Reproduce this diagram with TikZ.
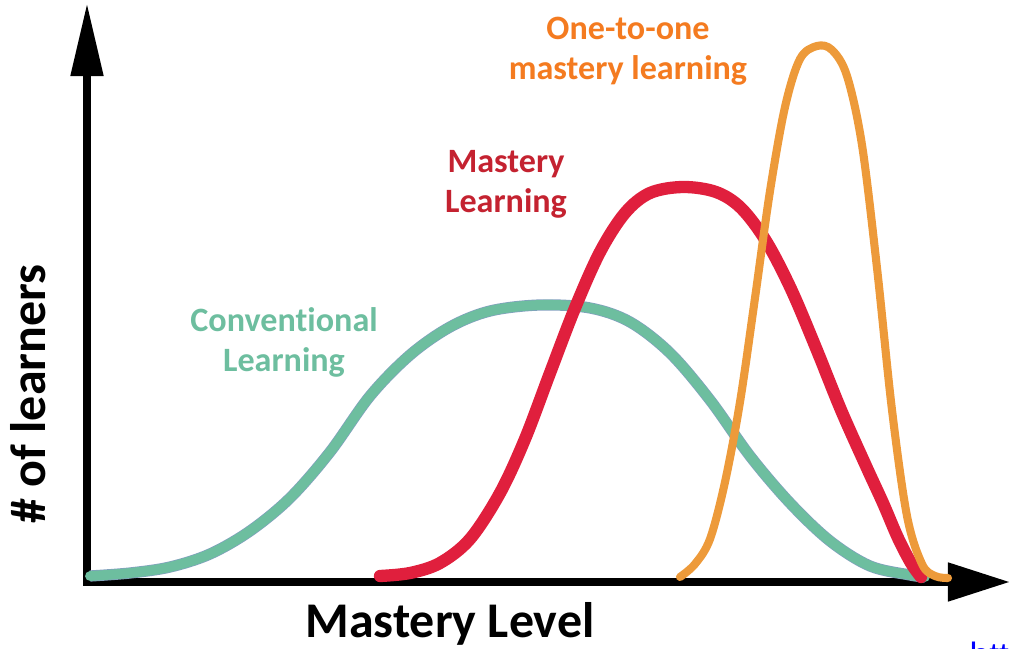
\documentclass[tikz,border=0pt]{standalone}
\usepackage{fontspec}
\setmainfont{Carlito}[Ligatures=CommonOff]
\newfontfamily\urlfont{Liberation Sans}
\usetikzlibrary{arrows.meta}

\definecolor{convgreen}{RGB}{109,190,159}
\definecolor{convedge}{RGB}{130,160,190}
\definecolor{mastred}{RGB}{224,31,61}
\definecolor{mastredtext}{RGB}{196,34,48}
\definecolor{oneorange}{RGB}{237,154,58}
\definecolor{oneorangetext}{RGB}{244,123,32}

\begin{document}
\begin{tikzpicture}[x=0.01cm, y=-0.01cm,
	axis/.style={line width=2.3pt},
	curve/.style={line width=#1, line cap=round, line join=round},
	lbl/.style={font=\bfseries\fontsize{9.7}{11.4}\selectfont, align=center, inner sep=0pt},
	axislbl/.style={font=\bfseries\fontsize{14.2}{17}\selectfont, inner sep=0pt}]

	\useasboundingbox (0,0) rectangle (1009,649);

	% axes
	\coordinate (O) at (87,582);
	\coordinate (ytip) at (87,3);
	\coordinate (xtip) at (1010,582);
	\draw[axis, {Triangle[length=7.3mm, width=3.1mm]}-{Triangle[length=6.2mm, width=3.7mm]}] (ytip) -- (O) -- (xtip);
	\node[axislbl, anchor=base] (xlabel) at (450,637) {Mastery Level};
	\node[axislbl, anchor=base, rotate=90] (ylabel) at (45,394) {\# of learners};

	% curves
	% conventional
	\draw[curve=2.8pt, convgreen, preaction={draw=convedge, line width=3.2pt}] plot[smooth, tension=0.55] coordinates {(90,576) (130,573) (170,567) (210,554) (250,531) (290,498) (330,452) (370,396) (410,355) (450,327) (490,311) (540,305) (590,308) (630,322) (670,353) (710,400) (750,456) (790,503) (830,541) (870,566) (910,575) (925,577)};
	% mastery
	\draw[curve=3.5pt, mastred] plot[smooth, tension=0.55] coordinates {(380,576) (410,573) (440,563) (470,539) (500,493) (525,439) (550,373) (575,308) (600,252) (625,213) (650,193) (683,187) (716,192) (741,208) (766,241) (791,289) (816,348) (841,410) (866,466) (883,503) (898,538) (911,563) (921,577)};
	% one-to-one
	\draw[curve=2.3pt, oneorange] plot[smooth, tension=0.55] coordinates {(680,577) (695,564) (710,539) (725,482) (740,402) (755,298) (770,191) (785,107) (800,59) (817,46) (832,50) (847,76) (862,145) (877,268) (892,410) (907,516) (922,564) (935,576) (948,578)};

	% labels
	\node[lbl, convgreen, anchor=base] (conv) at (284,372) {Conventional\\Learning};
	\node[lbl, mastredtext, anchor=base] (mast) at (506,213) {Mastery\\Learning};
	\node[lbl, oneorangetext, anchor=base] (one) at (628,80) {One-to-one\\mastery learning};

	% source
	\node[anchor=north west, inner sep=0pt, text=blue, font=\urlfont\fontsize{10}{12}\selectfont] (src) at (969,641) {https://};

\end{tikzpicture}
\end{document}
